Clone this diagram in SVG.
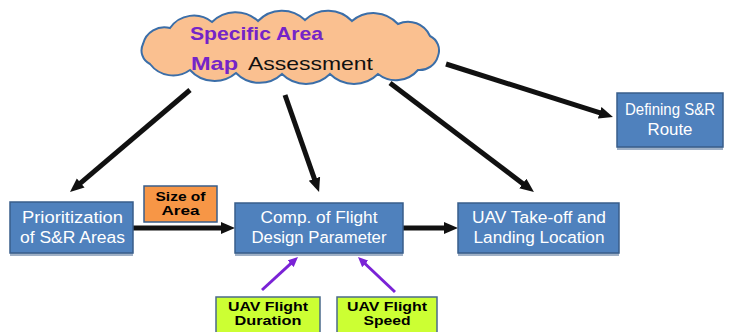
<svg xmlns="http://www.w3.org/2000/svg" width="737" height="332" viewBox="0 0 737 332">
  <defs>
    <marker id="head" markerUnits="userSpaceOnUse" viewBox="0 0 14 14" markerWidth="14" markerHeight="14" refX="3" refY="7" orient="auto">
      <path d="M0,1 L14,7 L0,13 z" fill="#111"/>
    </marker>
    <marker id="headPurple" markerUnits="userSpaceOnUse" viewBox="0 0 10 10" markerWidth="10" markerHeight="10" refX="2" refY="5" orient="auto">
      <path d="M0,0.5 L10,5 L0,9.5 z" fill="#7A22D6"/>
    </marker>
    <style>
      .box { fill: #4F81BD; stroke: #385D8A; stroke-width: 1.5; }
      .shadow { fill: #9FB0C6; }
      .lbl { font-family: "Liberation Sans", Arial, sans-serif; font-size: 16px; fill: #FFFFFF; text-anchor: middle; }
      .tag { font-family: "Liberation Sans", Arial, sans-serif; font-size: 13px; font-weight: bold; fill: #000; text-anchor: middle; }
      .orange { fill: #F79646; stroke: #385D8A; stroke-width: 1.5; }
      .lime { fill: #CCFF33; stroke: #4A6A8A; stroke-width: 1.5; }
      .conn { stroke: #111; stroke-width: 5; fill: none; marker-end: url(#head); }
      .connP { stroke: #7A22D6; stroke-width: 3; fill: none; marker-end: url(#headPurple); }
      .cloudTitle { font-family: "Liberation Sans", Arial, sans-serif; font-size: 19px; font-weight: bold; fill: #7424C8; }
    </style>
  </defs>

  <rect width="737" height="332" fill="#FFFFFF"/>

  <!-- connectors -->
  <g id="connectors">
    <line class="conn" x1="190" y1="90" x2="78.4" y2="184.9"/>
    <line class="conn" x1="285" y1="95" x2="315.4" y2="181.6"/>
    <line class="conn" x1="390" y1="83" x2="525.2" y2="185.4"/>
    <line class="conn" x1="446" y1="64" x2="602.5" y2="113.7"/>
    <line class="conn" x1="133" y1="228" x2="224" y2="228"/>
    <line class="conn" x1="403" y1="228" x2="447" y2="228"/>
    <line class="connP" x1="262" y1="290" x2="292.1" y2="262.4"/>
    <line class="connP" x1="395" y1="292" x2="363.8" y2="262.5"/>
  </g>

  <!-- central cloud -->
  <g id="cloud">
    <path d="M150,64 A15,15 0 0 1 143,44 A22,22 0 0 1 170,28 A29,29 0 0 1 212,22 A33,33 0 0 1 258,21 A33,33 0 0 1 305,20 A33,33 0 0 1 352,21 A33,33 0 0 1 398,24 A24,24 0 0 1 430,36 A16,16 0 0 1 438,56 A19,19 0 0 1 418,70 A29,29 0 0 1 378,74 A34,34 0 0 1 330,74 A34,34 0 0 1 282,74 A33,33 0 0 1 236,73 A33,33 0 0 1 190,70 A29,29 0 0 1 150,64 z" fill="#FAC090" stroke="#3B6EA8" stroke-width="2"/>
    <text class="cloudTitle" x="190" y="40" textLength="133" lengthAdjust="spacingAndGlyphs">Specific Area</text>
    <text class="cloudTitle" x="191" y="70" textLength="47" lengthAdjust="spacingAndGlyphs">Map</text>
    <text x="248" y="70" font-family="'Liberation Sans', Arial, sans-serif" font-size="19" fill="#111" textLength="125" lengthAdjust="spacingAndGlyphs">Assessment</text>
  </g>

  <g id="prioritization">
    <rect class="shadow" x="10" y="205" width="123" height="51"/>
    <rect class="box" x="10" y="202" width="123" height="51"/>
    <text class="lbl" x="72.5" y="223" textLength="101" lengthAdjust="spacingAndGlyphs">Prioritization</text>
    <text class="lbl" x="72.5" y="243" textLength="105" lengthAdjust="spacingAndGlyphs">of S&amp;R Areas</text>
  </g>

  <g id="size-of-area">
    <rect class="orange" x="144" y="186" width="73" height="36"/>
    <text class="tag" x="180.5" y="201" textLength="50" lengthAdjust="spacingAndGlyphs">Size of</text>
    <text class="tag" x="180.5" y="215" textLength="38" lengthAdjust="spacingAndGlyphs">Area</text>
  </g>

  <g id="flight-design">
    <rect class="shadow" x="235" y="206" width="168" height="50"/>
    <rect class="box" x="235" y="203" width="168" height="50"/>
    <text class="lbl" x="319" y="223" textLength="117" lengthAdjust="spacingAndGlyphs">Comp. of Flight</text>
    <text class="lbl" x="319" y="243" textLength="135" lengthAdjust="spacingAndGlyphs">Design Parameter</text>
  </g>

  <g id="takeoff-landing">
    <rect class="shadow" x="458" y="206" width="161" height="50"/>
    <rect class="box" x="458" y="203" width="161" height="50"/>
    <text class="lbl" x="539" y="223" textLength="134" lengthAdjust="spacingAndGlyphs">UAV Take-off and</text>
    <text class="lbl" x="539" y="243" textLength="131" lengthAdjust="spacingAndGlyphs">Landing Location</text>
  </g>

  <g id="route">
    <rect class="shadow" x="617" y="96" width="106" height="54"/>
    <rect class="box" x="617" y="93" width="106" height="54"/>
    <text class="lbl" x="670" y="115" textLength="90" lengthAdjust="spacingAndGlyphs">Defining S&amp;R</text>
    <text class="lbl" x="670" y="135" textLength="45" lengthAdjust="spacingAndGlyphs">Route</text>
  </g>

  <g id="flight-duration">
    <rect class="lime" x="216" y="297" width="104" height="42"/>
    <text class="tag" x="268" y="311" textLength="80" lengthAdjust="spacingAndGlyphs">UAV Flight</text>
    <text class="tag" x="268" y="325" textLength="67" lengthAdjust="spacingAndGlyphs">Duration</text>
  </g>

  <g id="flight-speed">
    <rect class="lime" x="337" y="297" width="100" height="42"/>
    <text class="tag" x="387" y="311" textLength="80" lengthAdjust="spacingAndGlyphs">UAV Flight</text>
    <text class="tag" x="387" y="325" textLength="47" lengthAdjust="spacingAndGlyphs">Speed</text>
  </g>
</svg>
